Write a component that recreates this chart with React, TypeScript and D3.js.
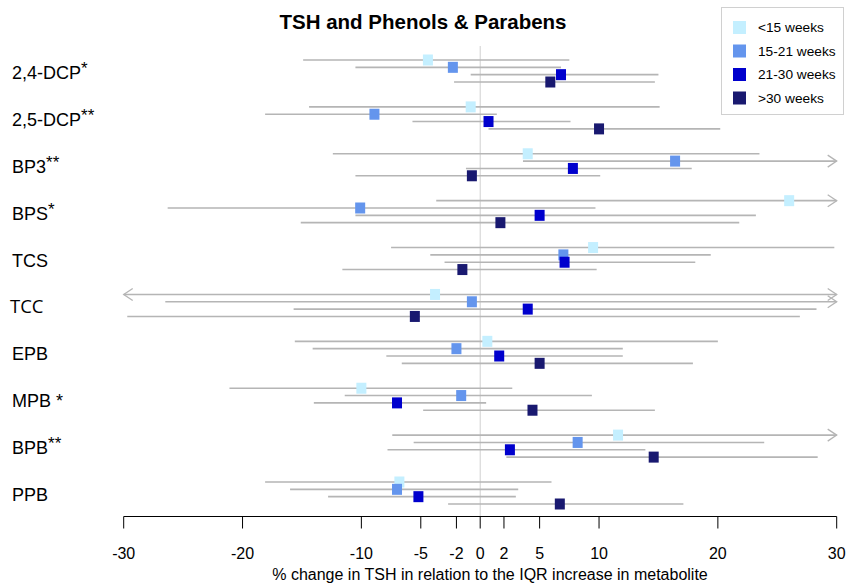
import React from "react";
import * as d3 from "d3";

const categories = ["2,4-DCP", "2,5-DCP", "BP3", "BPS", "TCS", "TCC", "EPB", "MPB *", "BPB", "PPB"];
const superscripts = ["*", "**", "**", "*", "", "", "", "", "**", ""];
const seriesNames = ["<15 weeks", "15-21 weeks", "21-30 weeks", ">30 weeks"];
const seriesColors = ["#c4efff", "#6495ed", "#0000cd", "#191970"];
const xTicks = [-30, -20, -10, -5, -2, 0, 2, 5, 10, 20, 30];

const lt15Est = [-4.4, -0.8, 4.0, 26.0, 9.5, -3.8, 0.6, -10.0, 11.6, -6.8];
const lt15Lo = [-14.9, -14.4, -12.4, -3.7, -7.5, -31, -15.6, -21.1, -7.4, -18.1];
const lt15Hi = [7.5, 15.1, 23.5, 31, 29.8, 31, 20.0, 2.7, 31, 6.0];

const w1521Est = [-2.3, -8.9, 16.4, -10.1, 7.0, -0.7, -2.0, -1.6, 8.2, -7.0];
const w1521Lo = [-10.5, -18.1, 3.6, -26.3, -4.2, -26.5, -14.1, -11.4, -5.6, -16.0];
const w1521Hi = [6.8, 1.4, 31, 9.7, 19.4, 31, 12.0, 9.4, 23.9, 3.2];

const w2130Est = [6.8, 0.7, 7.8, 5.0, 7.1, 4.0, 1.6, -7.0, 2.5, -5.2];
const w2130Lo = [-0.8, -5.7, -1.2, -10.5, -3.0, -15.7, -7.9, -14.0, -7.8, -12.8];
const w2130Hi = [15.0, 7.6, 17.8, 23.2, 18.1, 28.3, 12.0, 0.5, 13.9, 3.0];

const gt30Est = [5.9, 10.0, -0.7, 1.7, -1.5, -5.5, 5.0, 4.4, 14.6, 6.7];
const gt30Lo = [-2.2, 0.7, -10.5, -15.1, -11.6, -29.7, -6.6, -4.8, 2.2, -2.7];
const gt30Hi = [14.7, 20.2, 10.1, 21.8, 9.8, 26.9, 17.9, 14.7, 28.4, 17.1];

const seriesEst = [lt15Est, w1521Est, w2130Est, gt30Est];
const seriesLo = [lt15Lo, w1521Lo, w2130Lo, gt30Lo];
const seriesHi = [lt15Hi, w1521Hi, w2130Hi, gt30Hi];

const FONT = "'Liberation Sans', Arial, sans-serif";

export default function App() {
  const W = 849, H = 586;
  const x = d3.scaleLinear().domain([-30, 30]).range([123.7, 836.7]);
  const y = d3.scalePoint<string>().domain(categories).range([71, 493]);
  const off = d3.scalePoint<string>().domain(seriesNames).range([-11, 11]);
  const axisY = 516.5;
  const lineColor = "#b5b5b5";

  const rows: React.ReactNode[] = [];
  seriesNames.forEach((s, si) => {
    categories.forEach((c, ci) => {
      const yy = (y(c) as number) + (off(s) as number);
      const lo = seriesLo[si][ci];
      const hi = seriesHi[si][ci];
      const x1 = x(Math.max(lo, -30));
      const x2 = x(Math.min(hi, 30));
      rows.push(
        <g key={`l-${si}-${ci}`}>
          <line x1={x1} x2={x2} y1={yy} y2={yy} stroke={lineColor} strokeWidth={1.6} />
          {hi > 30 && (
            <polyline points={`${x2 - 9},${yy - 6} ${x2},${yy} ${x2 - 9},${yy + 6}`} fill="none" stroke={lineColor} strokeWidth={1.3} />
          )}
          {lo < -30 && (
            <polyline points={`${x1 + 9},${yy - 6} ${x1},${yy} ${x1 + 9},${yy + 6}`} fill="none" stroke={lineColor} strokeWidth={1.3} />
          )}
        </g>
      );
    });
  });
  const marks: React.ReactNode[] = [];
  seriesNames.forEach((s, si) => {
    categories.forEach((c, ci) => {
      const yy = (y(c) as number) + (off(s) as number);
      const xx = x(seriesEst[si][ci]);
      marks.push(
        <rect key={`m-${si}-${ci}`} x={xx - 5} y={yy - 5.5} width={10} height={11} fill={seriesColors[si]} />
      );
    });
  });

  return (
    <svg width={W} height={H} style={{ position: "absolute", left: 0, top: 0, background: "#fff" }} fontFamily={FONT}>
      <rect width={W} height={H} fill="#fff" />
      <text x={423} y={29} textAnchor="middle" fontSize={20.5} fontWeight="bold" fill="#000">
        TSH and Phenols &amp; Parabens
      </text>
      <line x1={x(0)} x2={x(0)} y1={46} y2={axisY} stroke="#d0d0d0" strokeWidth={1} />
      {rows}
      {marks}
      {categories.map((c, ci) => (
        <text key={c} x={c === "TCC" ? 10 : 12} y={(y(c) as number) + 8} fontSize={c === "TCC" ? 18.5 : 18} fill="#000"
          fontFamily={c === "TCC" ? "'Open Sans', Arial, sans-serif" : FONT}>
          {c}
          {superscripts[ci] && (
            <tspan dy={-5} fontSize={17}>{superscripts[ci]}</tspan>
          )}
        </text>
      ))}
      <line x1={x(-30)} x2={x(30)} y1={axisY} y2={axisY} stroke="#000" strokeWidth={1} />
      {xTicks.map((t) => (
        <g key={t}>
          <line x1={x(t)} x2={x(t)} y1={axisY} y2={axisY + 12} stroke="#000" strokeWidth={1} />
          <text x={x(t)} y={axisY + 42} textAnchor="middle" fontSize={16} fill="#000">{t}</text>
        </g>
      ))}
      <text x={490} y={580} textAnchor="middle" fontSize={16} fill="#000">
        % change in TSH in relation to the IQR increase in metabolite
      </text>
      <rect x={721.5} y={7.5} width={122} height={107} fill="#fff" stroke="#d0d0d0" strokeWidth={1} />
      {seriesNames.map((s, si) => (
        <g key={s}>
          <rect x={733} y={21 + si * 23.5} width={13} height={13} fill={seriesColors[si]} />
          <text x={758} y={32 + si * 23.5} fontSize={13.7} fill="#000">{s}</text>
        </g>
      ))}
    </svg>
  );
}
